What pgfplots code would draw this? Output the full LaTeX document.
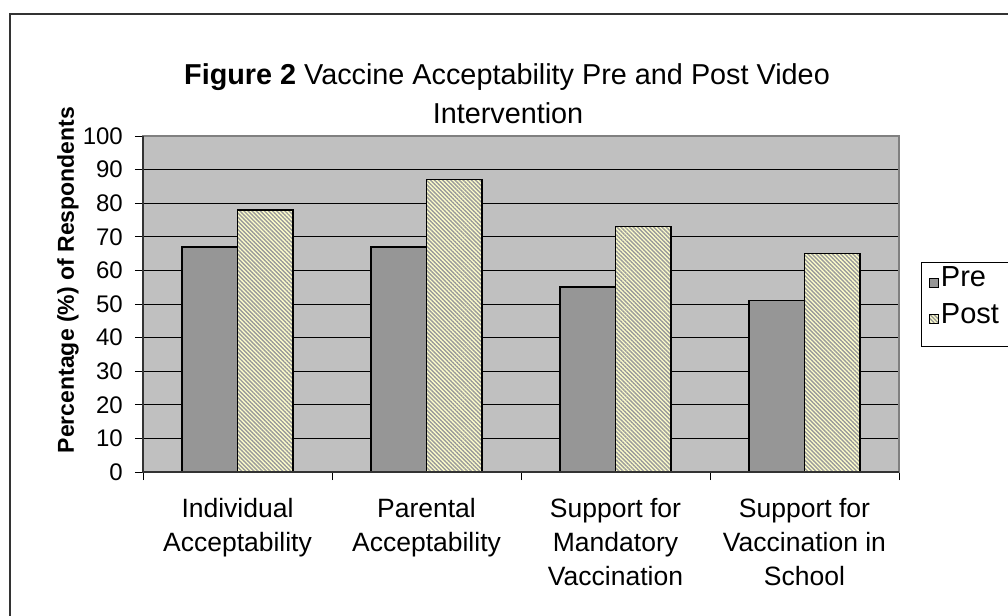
\documentclass[border=0pt]{standalone}
\usepackage{fontspec}
\setmainfont{Liberation Sans}
\usepackage{pgfplots}
\usepackage{pgfplotstable}
\pgfplotsset{compat=1.18}
\usetikzlibrary{patterns.meta}
\definecolor{plotbg}{HTML}{C0C0C0}
\definecolor{prefill}{HTML}{969696}
\definecolor{postfill}{HTML}{FFFFCC}
\definecolor{stripe}{HTML}{9A9A9A}

\pgfplotstableread{
idx pre post
0 67 78
1 67 87
2 55 73
3 51 65
}\datatable

\begin{document}
\begin{tikzpicture}
\draw[line width=2pt, black!80] (10pt,-700pt) -- (10pt,-14pt) -- (1100pt,-14pt);
\begin{axis}[
 at={(143pt,-472pt)}, anchor=south west,
 width=756pt, height=336pt, scale only axis,
 xmin=-0.5, xmax=3.5, ymin=0, ymax=100,
 axis background/.style={fill=plotbg},
 ybar=0pt, bar width=55.5pt,
 tick pos=left,
 xtick={-0.5,0.5,1.5,2.5,3.5},
 xticklabels={},
 extra x ticks={0,1,2,3},
 extra x tick labels={{Individual\\Acceptability},{Parental\\Acceptability},{Support for\\Mandatory\\Vaccination},{Support for\\Vaccination in\\School}},
 extra x tick style={major tick length=0pt, xticklabel style={align=center, font=\fontsize{26.5}{34}\selectfont, anchor=north, inner sep=0pt, yshift=-26.5pt}},
 ytick={0,10,...,100},
 ymajorgrids, grid style={black, line width=1pt},
 tick style={black, line width=1pt},
 major tick length=8pt, tick align=outside,
 yticklabel style={font=\fontsize{24}{28}\selectfont, inner sep=0pt, anchor=east, xshift=-12pt},
 /pgf/number format/assume math mode=true,
 axis line style={draw=gray, line width=1.5pt},
 after end axis/.code={\draw[black!80, line width=1.5pt] (rel axis cs:0,1) -- (rel axis cs:0,0) -- (rel axis cs:1,0);},
 legend image code/.code={\draw[#1, line width=0.8pt] (0pt,-9.5pt) rectangle (9pt,-0.5pt);},
 legend style={at={(1.029,0.625)}, anchor=north west, draw=none, fill=none, font=\fontsize{29}{32}\selectfont, inner xsep=8pt, inner ysep=2.8pt, row sep=10.8pt, nodes={inner sep=2pt}, cells={anchor=west}},
]
\addplot[fill=prefill, draw=black, line width=1.5pt] table[x=idx,y=pre]{\datatable};
\addlegendentry{Pre}
\addplot[fill=postfill, draw=black, line width=1.5pt, postaction={pattern={Lines[angle=-45,distance=2.9pt,line width=1.4pt]}, pattern color=stripe}] table[x=idx,y=post]{\datatable};
\addlegendentry{Post}
\end{axis}
\draw[black, line width=1pt] (921pt,-262pt) rectangle (1030pt,-346pt);
\node[anchor=base, font=\fontsize{28.8}{34}\selectfont] at (507pt,-85pt) {\textbf{Figure 2} Vaccine Acceptability Pre and Post Video};
\node[anchor=base, font=\fontsize{28.8}{34}\selectfont] at (508pt,-123pt) {Intervention};
\node[rotate=90, font=\bfseries\fontsize{23}{26}\selectfont] at (68pt,-280pt) {Percentage (\%) of Respondents};
\pgfresetboundingbox
\useasboundingbox (0,0) rectangle (1008pt,-615pt);
\end{tikzpicture}
\end{document}
